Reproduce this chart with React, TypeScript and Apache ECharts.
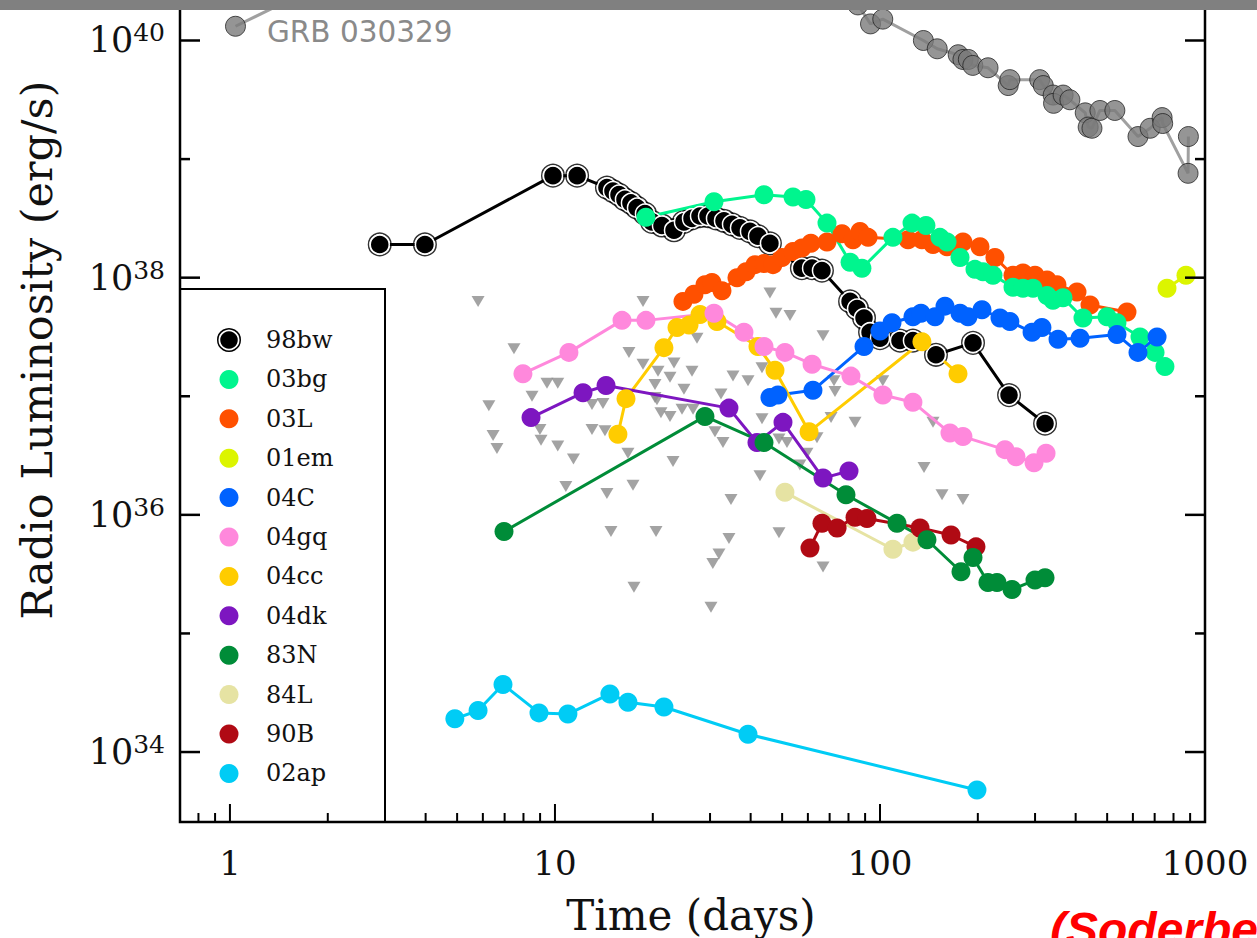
import React, { useEffect, useRef } from "react";
import * as echarts from "echarts";

// Each row: [days since explosion, log10 of radio luminosity in erg/s]
type Row = [number, number];

const grb030329: Row[] = [
  [1.04, 40.12], [2.0, 40.5], [60, 40.45], [85.5, 40.3], [93.5, 40.14], [102, 40.18],
  [136, 40.0], [150, 39.93], [174, 39.88], [180, 39.84], [187, 39.84], [193, 39.79],
  [215, 39.77], [248, 39.62], [251, 39.67], [310, 39.67], [318, 39.62], [341, 39.54],
  [342, 39.47], [366, 39.54], [384, 39.5], [428, 39.39], [437, 39.27], [449, 39.26],
  [475, 39.41], [528, 39.41], [622, 39.19], [678, 39.26], [738, 39.35], [741, 39.3],
  [887, 38.88], [889, 39.19],
];

const sn98bw: Row[] = [
  [2.89, 38.28], [3.98, 38.28], [9.86, 38.86], [11.7, 38.86], [14.45, 38.76], [15.08, 38.73],
  [15.74, 38.7], [16.42, 38.66], [17.13, 38.63], [17.88, 38.59], [18.92, 38.54], [19.89, 38.47],
  [21.34, 38.44], [23.24, 38.4], [24.94, 38.47], [26.4, 38.5], [27.94, 38.52], [29.57, 38.52],
  [31.29, 38.5], [33.11, 38.48], [35.05, 38.45], [37.09, 38.42], [39.81, 38.39], [42.13, 38.35],
  [45.86, 38.29], [57.5, 38.08], [61.8, 38.08], [66.3, 38.06], [80.9, 37.8], [85.0, 37.74],
  [89.3, 37.66], [93.2, 37.54], [100, 37.49], [115.2, 37.47], [126.3, 37.47], [148.7, 37.35],
  [193.3, 37.45], [249.5, 37.01], [322, 36.77],
];

const sn03bg: Row[] = [
  [19.05, 38.51], [30.85, 38.64], [43.97, 38.7], [54.0, 38.68], [59.2, 38.66], [68.7, 38.46],
  [80.9, 38.13], [88.0, 38.08], [109.6, 38.34], [125.5, 38.46], [138.5, 38.44], [152.9, 38.34],
  [160.8, 38.3], [176.3, 38.17], [196.0, 38.07], [207.5, 38.05], [222.7, 38.02], [256.6, 37.92],
  [275.4, 37.91], [295.7, 37.91], [326.6, 37.85], [340.7, 37.81], [365.7, 37.83], [421.3, 37.66],
  [499.4, 37.67], [536.0, 37.62], [631, 37.5], [702, 37.37], [753, 37.25],
];

const sn03L: Row[] = [
  [24.76, 37.8], [26.77, 37.86], [28.94, 37.94], [30.41, 37.96], [32.65, 37.89], [36.31, 38.0],
  [38.71, 38.05], [41.25, 38.11], [43.97, 38.12], [46.86, 38.11], [49.94, 38.17], [54.0, 38.22],
  [57.5, 38.25], [61.3, 38.29], [68.7, 38.3], [76.4, 38.37], [82.6, 38.32], [86.8, 38.39],
  [91.9, 38.34], [122.0, 38.32], [134.6, 38.32], [145.6, 38.28], [160.8, 38.26], [180.0, 38.3],
  [203.1, 38.26], [225.8, 38.17], [256.6, 38.02], [275.4, 38.04], [299.9, 38.02], [326.6, 37.98],
  [350.4, 37.94], [403.8, 37.88], [442.8, 37.77], [575.4, 37.71],
];

const sn01em: Row[] = [[764, 37.91], [874, 38.02]];

const sn04C: Row[] = [
  [45.86, 36.99], [48.55, 37.01], [62.2, 37.05], [89.3, 37.42], [100, 37.55], [108.9, 37.62],
  [126.3, 37.67], [133.7, 37.7], [147.7, 37.67], [158.5, 37.76], [176.3, 37.7], [186.6, 37.67],
  [206, 37.73], [234, 37.66], [251, 37.63], [293.7, 37.54], [315, 37.58], [353, 37.48],
  [412.6, 37.49], [536, 37.52], [622, 37.37], [712, 37.5],
];

const sn04gq: Row[] = [
  [7.97, 37.19], [11.04, 37.37], [16.08, 37.64], [19.05, 37.64], [30.85, 37.7], [38.15, 37.54],
  [43.97, 37.42], [51.0, 37.37], [61.8, 37.27], [81.4, 37.17], [102.1, 37.01], [126.3, 36.95],
  [164.2, 36.69], [180.0, 36.66], [242.4, 36.55], [262.1, 36.49], [297.8, 36.44], [324.3, 36.52],
];

const sn04cc: Row[] = [
  [15.62, 36.68], [16.54, 36.98], [21.64, 37.41], [23.74, 37.58], [25.85, 37.6], [27.94, 37.69],
  [31.51, 37.63], [42.13, 37.42], [47.53, 37.22], [60.5, 36.7], [134.6, 37.46], [173.8, 37.19],
];

const sn04dk: Row[] = [
  [8.44, 36.82], [12.2, 37.03], [14.36, 37.09], [34.3, 36.9], [41.83, 36.61], [50.3, 36.78],
  [66.8, 36.31], [80.3, 36.37],
];

const sn83N: Row[] = [
  [6.97, 35.86], [28.94, 36.83], [43.97, 36.61], [78.6, 36.17], [112.8, 35.93], [139.5, 35.79],
  [177.5, 35.52], [193.3, 35.64], [214.9, 35.43], [229.1, 35.43], [254.8, 35.37], [299.9, 35.45],
  [322, 35.47],
];

const sn84L: Row[] = [[51.0, 36.19], [109.6, 35.71], [126.3, 35.77]];

const sn90B: Row[] = [
  [60.9, 35.72], [66.3, 35.93], [73.8, 35.89], [83.8, 35.98], [91.2, 35.97], [132.8, 35.89],
  [165.4, 35.83], [197.4, 35.73],
];

const sn02ap: Row[] = [
  [4.92, 34.28], [5.8, 34.35], [6.92, 34.57], [8.93, 34.33], [10.96, 34.32], [14.76, 34.49],
  [16.77, 34.42], [21.64, 34.38], [39.26, 34.15], [198.8, 33.68],
];

// Upper limits (non-detections)
const upperLimits: Row[] = [
  [5.8, 37.8], [7.48, 37.4], [9.45, 37.11], [10.2, 37.11], [8.5, 37.0], [6.26, 36.92],
  [6.45, 36.67], [6.63, 36.56], [8.99, 36.72], [9.06, 36.63], [10.2, 36.58], [11.4, 36.47],
  [10.8, 36.24], [13.0, 36.72], [13.0, 36.93], [14.05, 36.94], [14.25, 36.71], [16.77, 36.52],
  [16.89, 37.37], [18.66, 37.8], [18.66, 37.27], [20.75, 37.21], [23.24, 37.28], [22.59, 37.16],
  [26.4, 37.21], [27.35, 37.49], [20.31, 37.1], [20.31, 36.99], [24.94, 37.06], [20.6, 36.97],
  [21.19, 36.86], [22.59, 36.83], [24.6, 36.89], [26.6, 36.89], [23.08, 36.45], [14.45, 36.18],
  [17.38, 36.25], [14.87, 35.86], [20.46, 35.86], [17.5, 35.39], [31.07, 36.7], [32.88, 36.61],
  [32.42, 37.02], [35.3, 37.17], [39.26, 37.13], [43.35, 37.24], [45.86, 37.87], [47.86, 37.7],
  [52.86, 37.68], [66.8, 37.51], [43.35, 36.81], [48.89, 36.64], [51.75, 36.61], [64.0, 36.65],
  [42.74, 36.33], [34.8, 36.13], [34.3, 35.8], [48.89, 35.85], [31.96, 35.67], [30.6, 35.59],
  [66.8, 35.56], [30.2, 35.22], [72.2, 37.13], [72.7, 37.04], [102, 37.13], [70.7, 36.82],
  [83.8, 36.78], [145.6, 36.78], [136.6, 36.4], [155.2, 36.17], [180, 36.13], [56.7, 36.42],
  [59.6, 36.52],
];

const legendNames = ["98bw", "03bg", "03L", "01em", "04C", "04gq", "04cc", "04dk", "83N", "84L", "90B", "02ap"];
const legendColors = ["#000000", "#00f58e", "#ff5000", "#dcf500", "#0062ff", "#ff88dc", "#ffcc00", "#7d16c0", "#008c38", "#e6e3a3", "#b00a14", "#00ccf5"];

// drawing order, back to front
const drawOrder: { name: string; rows: Row[] }[] = [
  { name: "03L", rows: sn03L },
  { name: "98bw", rows: sn98bw },
  { name: "03bg", rows: sn03bg },
  { name: "01em", rows: sn01em },
  { name: "04C", rows: sn04C },
  { name: "04cc", rows: sn04cc },
  { name: "04gq", rows: sn04gq },
  { name: "04dk", rows: sn04dk },
  { name: "84L", rows: sn84L },
  { name: "90B", rows: sn90B },
  { name: "83N", rows: sn83N },
  { name: "02ap", rows: sn02ap },
];

const xMajorTicks = [1, 10, 100, 1000];
const xMinorTicks = [0.8, 0.9, 2, 3, 4, 5, 6, 7, 8, 9, 20, 30, 40, 50, 60, 70, 80, 90, 200, 300, 400, 500, 600, 700, 800, 900];
const yMajorTicks = [1e34, 1e36, 1e38, 1e40];
const yMinorTicks = [1e35, 1e37, 1e39];

const X_MIN = 0.702;
const X_MAX = 1000;
const Y_MIN = Math.pow(10, 33.41);
const Y_MAX = Math.pow(10, 40.3415);

const SERIF = "DejaVu Serif";
const MARK = 19;
const LINE_W = 3;

const toXY = (rows: Row[]) => rows.map(([t, e]) => [t, Math.pow(10, e)]);
const colorOf = (name: string) => legendColors[legendNames.indexOf(name)];

function buildOption() {
  const series: any[] = [];

  series.push({
    type: "scatter",
    name: "limits",
    data: toXY(upperLimits),
    symbol: "triangle",
    symbolRotate: 180,
    symbolSize: [13, 11],
    itemStyle: { color: "#8c8c8c" },
    silent: true,
  });

  series.push({
    type: "line",
    name: "GRB 030329",
    data: toXY(grb030329),
    symbol: "circle",
    symbolSize: 20,
    showAllSymbol: true,
    lineStyle: { color: "#a0a0a0", width: LINE_W },
    itemStyle: { color: "rgba(122,122,122,0.8)", borderColor: "rgba(30,30,30,0.75)", borderWidth: 1 },
    silent: true,
  });

  drawOrder.forEach(({ name, rows }) => {
    const color = colorOf(name);
    if (name === "98bw") {
      series.push({
        type: "line",
        name,
        data: toXY(rows),
        symbol: "circle",
        symbolSize: 19,
        showAllSymbol: true,
        lineStyle: { color: "#000", width: LINE_W },
        itemStyle: { color: "#000", borderColor: "#fff", borderWidth: 1.5 },
        silent: true,
      });
      series.push({
        type: "scatter",
        name: "98bw-ring",
        data: toXY(rows),
        symbol: "circle",
        symbolSize: 22.5,
        itemStyle: { color: "rgba(0,0,0,0)", borderColor: "#000", borderWidth: 1.5 },
        silent: true,
      });
    } else {
      series.push({
        type: "line",
        name,
        data: toXY(rows),
        symbol: "circle",
        symbolSize: MARK,
        showAllSymbol: true,
        lineStyle: { color, width: LINE_W },
        itemStyle: { color },
        silent: true,
      });
    }
  });

  // inward ticks on the bottom axis
  const xTickData = [
    ...xMajorTicks.map((v) => [v, Y_MIN, 1]),
    ...xMinorTicks.map((v) => [v, Y_MIN, 0]),
  ];
  series.push({
    type: "custom",
    name: "xticks",
    dimensions: ["x", "y", "major"],
    encode: { x: 0, y: 1 },
    data: xTickData,
    clip: false,
    silent: true,
    z: 10,
    renderItem: (_p: any, api: any) => {
      const pt = api.coord([api.value(0), Y_MIN]);
      const len = api.value(2) ? 18 : 9;
      return {
        type: "line",
        shape: { x1: pt[0], y1: pt[1], x2: pt[0], y2: pt[1] - len },
        style: { stroke: "#000", lineWidth: 2 },
      };
    },
  });

  // inward ticks on the left and right axes
  const yTickData = [
    ...yMajorTicks.map((v) => [X_MIN, v, 1]),
    ...yMinorTicks.map((v) => [X_MIN, v, 0]),
  ];
  series.push({
    type: "custom",
    name: "yticks",
    dimensions: ["x", "y", "major"],
    encode: { x: 0, y: 1 },
    data: yTickData,
    clip: false,
    silent: true,
    z: 10,
    renderItem: (_p: any, api: any) => {
      const v = api.value(1);
      const len = api.value(2) ? 20 : 10;
      const l = api.coord([X_MIN, v]);
      const r = api.coord([X_MAX, v]);
      return {
        type: "group",
        children: [
          { type: "line", shape: { x1: l[0], y1: l[1], x2: l[0] + len, y2: l[1] }, style: { stroke: "#000", lineWidth: 2.5 } },
          { type: "line", shape: { x1: r[0], y1: r[1], x2: r[0] - len, y2: r[1] }, style: { stroke: "#000", lineWidth: 2.5 } },
        ],
      };
    },
  });

  // legend box
  const legendTop = 340;
  const legendStep = 39.4;
  const legendChildren: any[] = [
    {
      type: "rect",
      shape: { x: 180, y: 289, width: 205, height: 533 },
      style: { fill: "none", stroke: "#000", lineWidth: 2 },
    },
  ];
  legendNames.forEach((name, i) => {
    const cy = legendTop + legendStep * i;
    if (name === "98bw") {
      legendChildren.push({ type: "circle", shape: { cx: 229, cy, r: 9.5 }, style: { fill: "#000", stroke: "#fff", lineWidth: 1.5 } });
      legendChildren.push({ type: "circle", shape: { cx: 229, cy, r: 11.25 }, style: { fill: "none", stroke: "#000", lineWidth: 1.5 } });
    } else {
      legendChildren.push({ type: "circle", shape: { cx: 229, cy, r: 9.5 }, style: { fill: legendColors[i] } });
    }
    legendChildren.push({
      type: "text",
      style: {
        text: name,
        x: 266,
        y: cy,
        fontFamily: SERIF,
        fontSize: 24,
        fill: "#111",
        verticalAlign: "middle",
        align: "left",
      },
    });
  });

  return {
    animation: false,
    backgroundColor: "#ffffff",
    grid: {
      left: 180,
      right: 52,
      top: 0,
      bottom: 116,
      show: true,
      borderColor: "#000",
      borderWidth: 2.5,
      backgroundColor: "rgba(0,0,0,0)",
      containLabel: false,
      outerBoundsMode: "none",
    },
    xAxis: {
      type: "log",
      logBase: 10,
      min: X_MIN,
      max: X_MAX,
      axisLine: { show: false },
      axisTick: { show: false },
      splitLine: { show: false },
      minorTick: { show: false },
      axisLabel: {
        margin: 24,
        fontFamily: SERIF,
        fontSize: 34,
        color: "#111",
        showMaxLabel: true,
        formatter: (v: number) => {
          const e = Math.log10(v);
          if (Math.abs(e - Math.round(e)) > 1e-3) return "";
          return String(Math.round(Math.pow(10, Math.round(e))));
        },
      },
    },
    yAxis: {
      type: "log",
      logBase: 10,
      min: Y_MIN,
      max: Y_MAX,
      axisLine: { show: false },
      axisTick: { show: false },
      splitLine: { show: false },
      minorTick: { show: false },
      axisLabel: {
        margin: 15,
        color: "#111",
        formatter: (v: number) => {
          const l = Math.log10(v);
          const e = Math.round(l);
          if (Math.abs(l - e) > 1e-3 || e % 2 !== 0) return "";
          return `{b|10}{s|${e}}`;
        },
        rich: {
          b: { fontFamily: SERIF, fontSize: 35, lineHeight: 40, color: "#111" },
          s: { fontFamily: SERIF, fontSize: 25, lineHeight: 25, verticalAlign: "top", color: "#111" },
        },
      },
    },
    series,
    graphic: [
      { type: "group", children: legendChildren, z: 5 },
      {
        type: "text",
        z: 5,
        style: {
          text: "GRB 030329",
          x: 267,
          y: 32,
          fontFamily: "DejaVu Sans",
          fontSize: 29.5,
          fill: "#8a8a8a",
          verticalAlign: "middle",
          align: "left",
        },
      },
      {
        type: "text",
        x: 37,
        y: 350,
        rotation: Math.PI / 2,
        z: 5,
        style: {
          text: "Radio Luminosity (erg/s)",
          fontFamily: SERIF,
          fontSize: 43,
          fill: "#111",
          align: "center",
          verticalAlign: "middle",
        },
      },
      {
        type: "text",
        z: 5,
        style: {
          text: "Time (days)",
          x: 691,
          y: 915,
          fontFamily: SERIF,
          fontSize: 42,
          fill: "#111",
          align: "center",
          verticalAlign: "middle",
        },
      },
      {
        type: "text",
        z: 5,
        style: {
          text: "(Soderberg et al. 2006)",
          x: 1050,
          y: 929,
          fontFamily: "Liberation Sans",
          fontSize: 48,
          fontWeight: "bold",
          fontStyle: "italic",
          fill: "#ff0000",
          align: "left",
          verticalAlign: "middle",
        },
      },
      {
        type: "rect",
        z: 100,
        shape: { x: 0, y: 0, width: 1257, height: 10 },
        style: { fill: "#808080" },
      },
    ],
  };
}

export default function App() {
  const ref = useRef<HTMLDivElement>(null);
  useEffect(() => {
    if (!ref.current) return;
    const chart = echarts.init(ref.current, undefined, { renderer: "svg" });
    chart.setOption(buildOption() as any);
    return () => chart.dispose();
  }, []);
  return (
    <div
      ref={ref}
      style={{ position: "absolute", left: 0, top: 0, width: 1257, height: 938, background: "#fff" }}
    />
  );
}
